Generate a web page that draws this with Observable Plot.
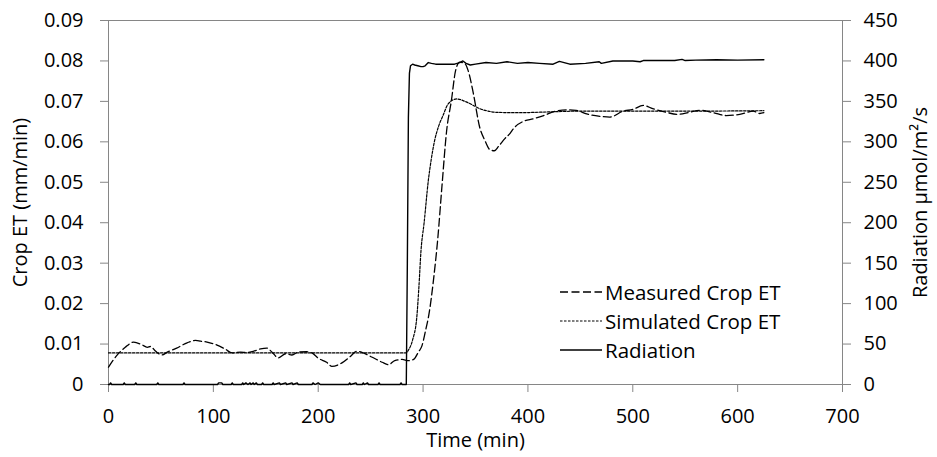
<!DOCTYPE html>
<html>
<head>
<meta charset="utf-8">
<script src="https://cdn.jsdelivr.net/npm/d3@7"></script>
<script src="https://cdn.jsdelivr.net/npm/@observablehq/plot@0.6"></script>
<style>
  html, body { margin: 0; padding: 0; background: #fff; }
  #wrap { position: relative; width: 937px; height: 457px; font-family: "Open Sans", sans-serif; }
  #legend { position: absolute; left: 560px; top: 277px; font-size: 20.5px; color: #000; }
  #legend .row { display: flex; align-items: center; height: 29px; }
  #legend svg { width: 42px; height: 10px; margin-right: 3px; }
</style>
</head>
<body>
<div id="wrap"><div id="chart"></div><div id="legend"></div></div>
<script>
// ---- Data ----
const xTicks = [0, 100, 200, 300, 400, 500, 600, 700];
const etTicks = [0, 0.01, 0.02, 0.03, 0.04, 0.05, 0.06, 0.07, 0.08, 0.09];
const radTicks = [0, 50, 100, 150, 200, 250, 300, 350, 400, 450];

const seriesNames = ["Measured Crop ET", "Simulated Crop ET", "Radiation"];

// Measured crop ET (mm/min)
const measT = [0, 8, 16, 24, 32, 37, 40, 45, 51, 56, 65, 75, 83, 88, 94, 103, 111, 118, 126, 132, 138, 145, 151, 156, 162, 169, 175, 181, 189, 194, 200, 208, 213, 223, 230, 237, 243, 251, 261, 267, 273, 280, 286, 291, 295.5, 299, 302, 306, 310, 314, 318, 322.5, 327, 331, 335, 340, 343, 348, 354, 359, 364, 368, 372, 378, 383, 386, 396, 405, 415, 427, 437, 446, 456, 469, 478, 491, 500, 510, 519, 532, 542, 554, 564, 577, 589, 602, 615, 621, 625];
const measV = [0.0043, 0.0072, 0.0092, 0.0105, 0.0098, 0.0092, 0.0094, 0.0082, 0.0073, 0.0080, 0.0090, 0.0103, 0.0109, 0.0107, 0.0105, 0.0098, 0.0088, 0.0078, 0.0080, 0.0079, 0.0082, 0.0088, 0.0090, 0.0080, 0.0066, 0.0076, 0.0073, 0.0080, 0.0081, 0.0078, 0.0065, 0.0055, 0.0045, 0.0054, 0.0068, 0.0082, 0.0078, 0.0068, 0.0055, 0.0049, 0.0059, 0.0062, 0.0059, 0.0062, 0.0080, 0.0096, 0.0129, 0.018, 0.026, 0.036, 0.049, 0.0628, 0.0702, 0.0776, 0.0797, 0.0793, 0.0776, 0.0719, 0.0636, 0.0603, 0.0580, 0.0578, 0.0589, 0.0608, 0.0621, 0.0632, 0.0651, 0.0657, 0.0665, 0.0676, 0.0679, 0.0678, 0.0669, 0.0663, 0.0661, 0.0676, 0.0680, 0.0690, 0.0682, 0.0673, 0.0668, 0.0673, 0.0678, 0.0672, 0.0665, 0.0668, 0.0676, 0.0670, 0.0672];

// Simulated crop ET (mm/min)
const simT = [0, 100, 200, 284, 286, 290, 294, 296, 298, 301, 305, 308, 311, 315, 319, 324, 332, 340, 348, 354, 362, 370, 390, 420, 450, 500, 560, 625];
const simV = [0.0078, 0.0078, 0.0078, 0.0078, 0.0085, 0.0110, 0.0166, 0.024, 0.033, 0.040, 0.0504, 0.056, 0.0603, 0.064, 0.0665, 0.0694, 0.0706, 0.0700, 0.0690, 0.0682, 0.0676, 0.0673, 0.0672, 0.0674, 0.0676, 0.0676, 0.0676, 0.0677];

// Radiation (µmol/m²/s)
const radT = [0, 1, 2, 3, 14, 15, 16, 25, 26, 27, 46, 47, 48, 71, 72, 73, 104, 105, 108, 109, 117, 118, 119, 127, 128, 129, 131, 133, 135, 136, 138, 139, 141, 142, 146, 147, 148, 156, 157, 158, 163, 164, 169, 170, 175, 176, 180, 181, 194, 195, 197, 200, 202, 229, 230, 231, 236, 237, 242, 243, 244, 247, 248, 257, 258, 259, 278, 279, 280, 284, 285, 286, 287, 288, 290, 292, 295, 298, 300, 302, 305, 308, 312, 320, 330, 335, 338, 341, 345, 350, 360, 370, 380, 390, 400, 411, 424, 430, 440, 455, 468, 470, 481, 500, 507, 510, 540, 547, 550, 560, 580, 600, 625];
const radV = [0, 0, 2, 0, 0, 2, 0, 0, 2, 0, 0, 2, 0, 0, 2, 0, 0, 2, 2, 0, 0, 2, 0, 0, 2, 0, 2, 0, 2, 0, 2, 0, 2, 0, 0, 2, 0, 0, 2, 0, 2, 0, 2, 0, 2, 0, 2, 0, 0, 2, 0, 2, 0, 0, 2, 0, 2, 0, 0, 2, 0, 2, 0, 0, 2, 0, 0, 2, 0, 0, 150, 330, 385, 394, 396, 395, 394, 393, 393, 394, 398, 397, 396, 396, 396, 398, 400, 397, 395, 396, 398, 397, 399, 397, 398, 397, 396, 399.5, 396, 397, 399, 397, 400, 400, 399, 400.5, 400.5, 402, 400.5, 401, 401.5, 401, 401.5];

// ---- Build tables ----
const etMax = 0.09, radMax = 450;
const k = etMax / radMax;
const meas = measT.map((t, i) => ({t, v: measV[i]}));
const sim = simT.map((t, i) => ({t, v: simV[i]}));
const rad = radT.map((t, i) => ({t, v: radV[i] * k}));

const font = "'Open Sans', sans-serif";
const axisGray = "#868686";

const chart = Plot.plot({
  width: 937,
  height: 457,
  marginTop: 20,
  marginRight: 95,
  marginBottom: 73,
  marginLeft: 108,
  style: {fontFamily: font, fontSize: "20px", color: "#000", background: "#fff", overflow: "visible"},
  x: {domain: [0, 700]},
  y: {domain: [0, etMax]},
  marks: [
    Plot.frame({stroke: axisGray}),
    Plot.axisX({ticks: xTicks, tickSize: 8, tickPadding: 16, stroke: axisGray, fill: "#000",
      tickFormat: d => String(d), label: "Time (min)", labelAnchor: "center", labelArrow: "none", labelOffset: 62}),
    Plot.axisY({anchor: "left", ticks: etTicks, tickSize: 8, tickPadding: 17, stroke: axisGray, fill: "#000",
      tickFormat: d => d === 0 ? "0" : d.toFixed(2), label: "Crop ET (mm/min)", labelAnchor: "center", labelArrow: "none", labelOffset: 96}),
    Plot.axisY({anchor: "right", ticks: radTicks.map(r => r * k), tickSize: 8, tickPadding: 13, stroke: axisGray, fill: "#000",
      tickFormat: d => String(Math.round(d / k)), label: "Radiation µmol/m²/s", labelAnchor: "center", labelArrow: "none", labelOffset: 84}),
    Plot.line(sim, {x: "t", y: "v", stroke: "#000", strokeWidth: 1.2, strokeDasharray: "2.5,1.5", curve: "monotone-x"}),
    Plot.line(meas, {x: "t", y: "v", stroke: "#000", strokeWidth: 1.3, strokeDasharray: "8,3.5", curve: "monotone-x"}),
    Plot.line(rad, {x: "t", y: "v", stroke: "#000", strokeWidth: 1.4})
  ]
});
document.getElementById("chart").appendChild(chart);

// ---- Legend (HTML) ----
const dashes = ["8,3.5", "2.5,1.5", null];
const widths = [1.3, 1.2, 1.4];
const legend = document.getElementById("legend");
seriesNames.forEach((name, i) => {
  const row = document.createElement("div");
  row.className = "row";
  const da = dashes[i] ? ` stroke-dasharray="${dashes[i]}"` : "";
  row.innerHTML = `<svg viewBox="0 0 42 10"><line x1="0" y1="5" x2="42" y2="5" stroke="#000" stroke-width="${widths[i]}"${da}/></svg><span>${name}</span>`;
  legend.appendChild(row);
});
</script>
</body>
</html>
